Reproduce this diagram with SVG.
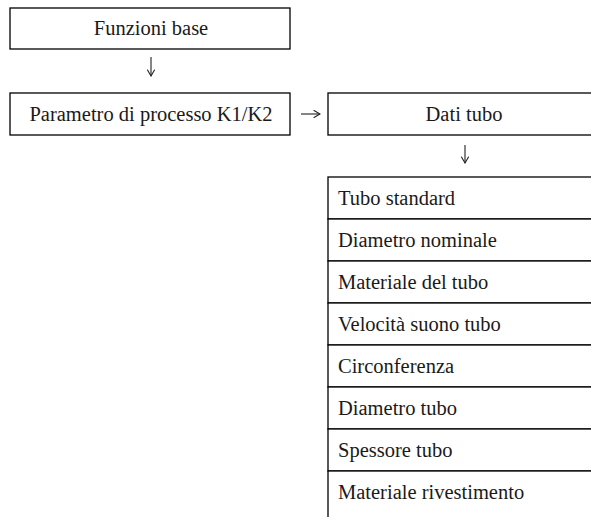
<svg xmlns="http://www.w3.org/2000/svg" width="591" height="517" viewBox="0 0 591 517">
  <style>
    .box { fill: #ffffff; stroke: #000000; stroke-width: 1.3; }
    .label { font-family: "Liberation Serif", "Times New Roman", serif; font-size: 20.5px; fill: #1a1a1a; }
    .mid { text-anchor: middle; }
    .link { fill: none; stroke: #222222; stroke-width: 1.1; }
    .head { fill: none; stroke: #222222; stroke-width: 1.1; stroke-linecap: round; }
  </style>
  <defs>
    <marker id="tip" viewBox="0 0 10 10" refX="9" refY="5" markerWidth="10" markerHeight="10" markerUnits="userSpaceOnUse" orient="auto">
      <path class="head" d="M3,1.5 L9,5 L3,8.5"/>
    </marker>
  </defs>

  <rect width="591" height="517" fill="#ffffff"/>

  <!-- connectors -->
  <g id="connectors">
    <line class="link" x1="151" y1="57" x2="151" y2="76" marker-end="url(#tip)"/>
    <line class="link" x1="301" y1="114" x2="320" y2="114" marker-end="url(#tip)"/>
    <line class="link" x1="465" y1="145" x2="465" y2="163" marker-end="url(#tip)"/>
  </g>

  <g id="funzioni-base">
    <rect class="box" x="10" y="8" width="280" height="41"/>
    <text class="label mid" x="151" y="35">Funzioni base</text>
  </g>

  <g id="parametro-processo">
    <rect class="box" x="10" y="93" width="280" height="42"/>
    <text class="label mid" x="151" y="121">Parametro di processo K1/K2</text>
  </g>

  <g id="dati-tubo">
    <rect class="box" x="328" y="93" width="280" height="42"/>
    <text class="label mid" x="464" y="121">Dati tubo</text>
  </g>

  <!-- parameter list under "Dati tubo" -->
  <g id="tubo-standard">
    <rect class="box" x="328" y="177" width="280" height="42"/>
    <text class="label" x="338" y="205">Tubo standard</text>
  </g>
  <g id="diametro-nominale">
    <rect class="box" x="328" y="219" width="280" height="42"/>
    <text class="label" x="338" y="247">Diametro nominale</text>
  </g>
  <g id="materiale-tubo">
    <rect class="box" x="328" y="261" width="280" height="42"/>
    <text class="label" x="338" y="289">Materiale del tubo</text>
  </g>
  <g id="velocita-suono">
    <rect class="box" x="328" y="303" width="280" height="42"/>
    <text class="label" x="338" y="331">Velocità suono tubo</text>
  </g>
  <g id="circonferenza">
    <rect class="box" x="328" y="345" width="280" height="42"/>
    <text class="label" x="338" y="373">Circonferenza</text>
  </g>
  <g id="diametro-tubo">
    <rect class="box" x="328" y="387" width="280" height="42"/>
    <text class="label" x="338" y="415">Diametro tubo</text>
  </g>
  <g id="spessore-tubo">
    <rect class="box" x="328" y="429" width="280" height="42"/>
    <text class="label" x="338" y="457">Spessore tubo</text>
  </g>
  <g id="materiale-rivestimento">
    <rect class="box" x="328" y="471" width="280" height="60"/>
    <text class="label" x="338" y="499">Materiale rivestimento</text>
  </g>
</svg>
